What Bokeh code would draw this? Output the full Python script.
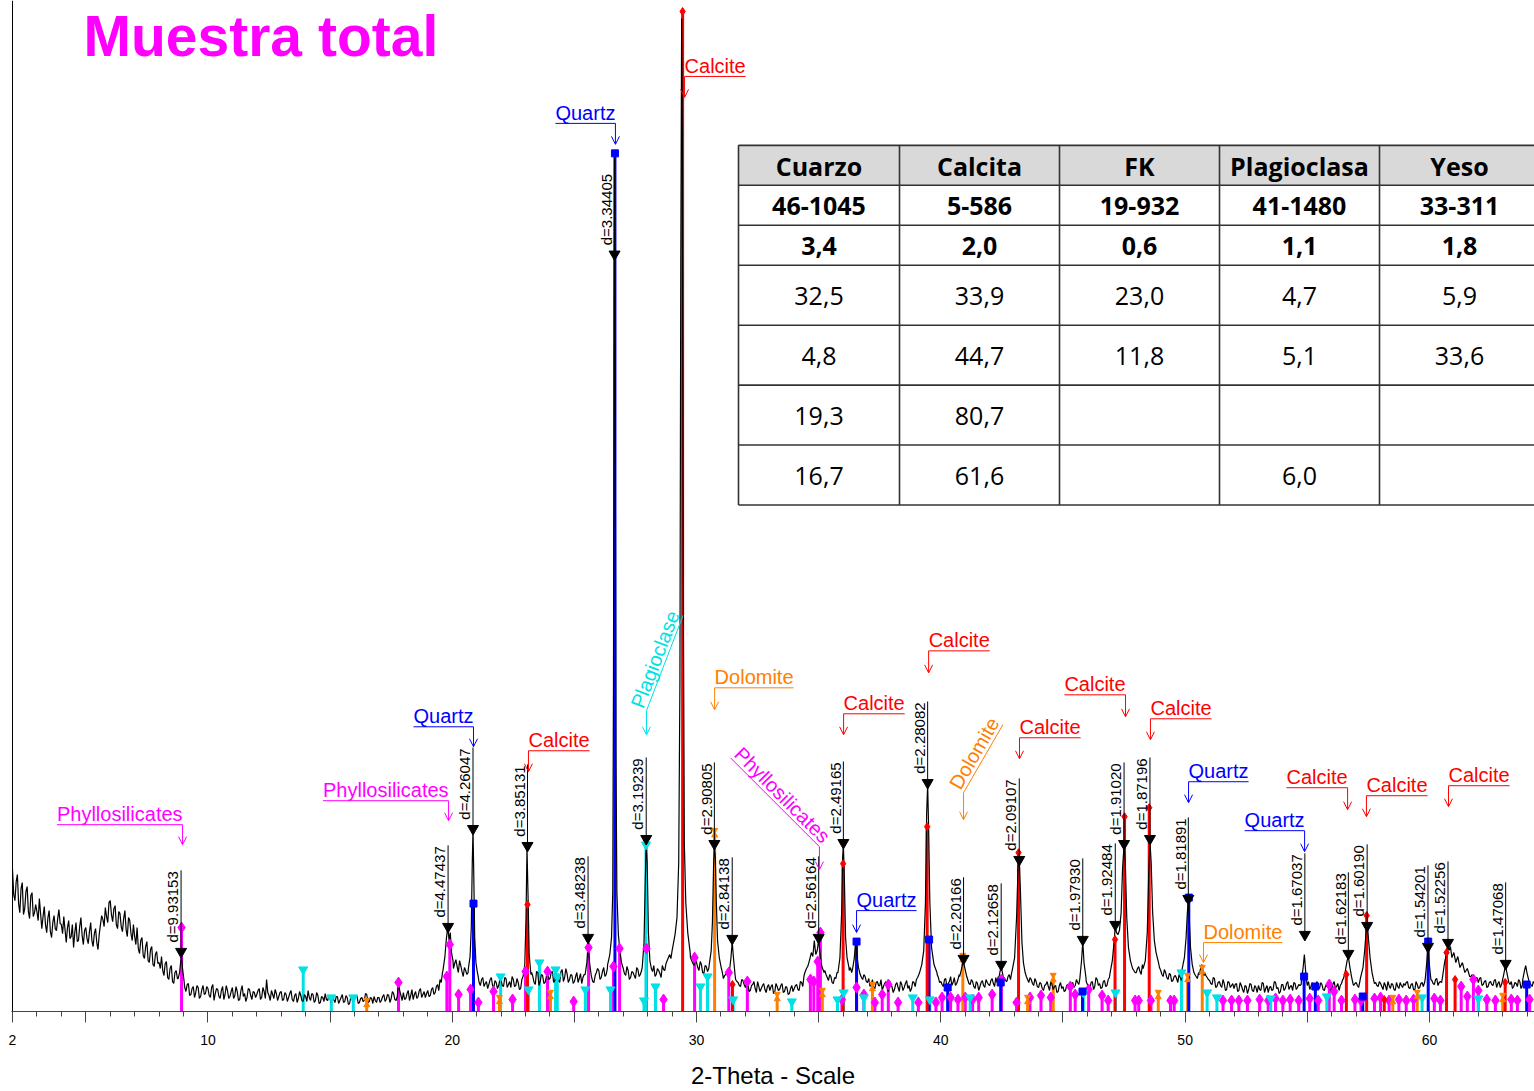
import math
from bokeh.plotting import figure
from bokeh.models import Range1d, FixedTicker, Span, Arrow, OpenHead, ColumnDataSource
from bokeh.core.properties import value
from bokeh.embed import file_html
from bokeh.resources import INLINE

# ============================ DATA ============================
title_text = "Muestra total"
x_label = "2-Theta - Scale"

# measured pattern: background counts every 0.1 deg from 2.00 deg (one row per degree)
bg_start = 2.0
bg_step = 0.1
bg_counts = [
    143, 112, 138, 100, 130, 104, 126, 94, 120, 100,
    101, 114, 84, 106, 80, 102, 75, 97, 82, 103,
    88, 96, 70, 92, 76, 65, 90, 72, 95, 68,
    85, 69, 90, 66, 84, 63, 88, 93, 105, 90,
    112, 91, 107, 84, 99, 81, 102, 76, 92, 72,
    76, 85, 59, 75, 54, 71, 50, 66, 46, 61,
    50, 56, 37, 51, 33, 47, 29, 42, 40, 45,
    32, 21, 29, 18, 26, 20, 25, 16, 27, 19,
    24, 15, 28, 19, 23, 14, 26, 18, 22, 16,
    25, 17, 21, 13, 27, 19, 15, 23, 13, 20,
    18, 24, 15, 21, 33, 17, 22, 14, 19, 16,
    21, 13, 18, 15, 22, 11, 19, 14, 17, 11,
    16, 22, 12, 18, 12, 17, 10, 15, 19, 12,
    14, 17, 10, 16, 12, 18, 11, 15, 9, 14,
    13, 17, 10, 15, 12, 18, 11, 14, 16, 10,
    15, 12, 18, 13, 17, 14, 19, 12, 30, 17,
    20, 14, 22, 17, 13, 21, 16, 24, 18, 15,
    22, 17, 25, 20, 28, 33, 40, 50, 80, 70,
    55, 49, 46, 52, 41, 45, 38, 50, 60, 45,
    36, 30, 33, 26, 31, 28, 35, 25, 30, 27,
    32, 26, 34, 28, 25, 33, 27, 30, 24, 35,
    60, 80, 45, 36, 28, 40, 31, 37, 30, 42,
    34, 41, 32, 38, 30, 43, 35, 39, 33, 37,
    31, 40, 34, 29, 38, 50, 40, 36, 30, 40,
    42, 35, 45, 38, 52, 70, 99, 99, 70, 55,
    44, 37, 42, 35, 40, 34, 43, 38, 50, 99,
    99, 45, 41, 36, 44, 39, 47, 42, 52, 58,
    62, 72, 99, 99, 99, 99, 99, 99, 52, 47,
    50, 42, 48, 39, 46, 44, 99, 99, 99, 99,
    40, 34, 38, 36, 60, 60, 33, 30, 26, 32,
    25, 30, 22, 28, 24, 31, 21, 27, 23, 26,
    22, 28, 20, 26, 23, 29, 21, 25, 19, 27,
    24, 28, 22, 30, 37, 44, 50, 60, 70, 60,
    60, 55, 45, 38, 32, 36, 29, 34, 40, 60,
    99, 99, 70, 45, 50, 60, 50, 38, 33, 36,
    30, 26, 33, 24, 31, 27, 22, 29, 25, 32,
    26, 23, 30, 21, 28, 25, 32, 27, 24, 30,
    33, 38, 50, 99, 99, 99, 99, 99, 50, 35,
    31, 26, 34, 29, 36, 30, 27, 33, 40, 50,
    40, 33, 28, 31, 24, 29, 26, 32, 25, 30,
    27, 34, 26, 30, 40, 45, 35, 31, 38, 40,
    99, 99, 99, 99, 99, 36, 30, 33, 27, 31,
    25, 29, 22, 28, 26, 31, 23, 27, 21, 30,
    26, 22, 28, 24, 30, 27, 30, 60, 50, 35,
    28, 24, 31, 26, 33, 29, 25, 32, 27, 35,
    38, 60, 80, 80, 99, 99, 99, 80, 50, 42,
    40, 46, 38, 50, 60, 99, 99, 99, 60, 50,
    42, 36, 40, 33, 38, 32, 37, 30, 35, 45,
    60, 99, 60, 50, 38, 34, 40, 45, 40, 35,
    32, 28, 34, 26, 31, 25, 29, 23, 30, 27,
    24, 29, 22, 27, 20, 26, 23, 28, 21, 25,
    27, 22, 29, 24, 20, 26, 23, 30, 25, 21,
    28, 24, 31, 26, 22, 29, 25, 27, 50, 40,
    27, 23, 30, 25, 31, 24, 28, 22, 26, 29,
    24, 31, 26, 22, 29, 40, 50, 40, 30, 27,
    30, 25, 40, 60, 80, 70, 45, 32, 30, 26,
    29, 23, 27, 31, 24, 28, 22, 26, 30, 25,
    27, 31, 24, 29, 22, 28, 25, 30, 30, 60,
    40, 32, 28, 34, 30, 30, 60, 70, 60, 55,
    55, 50, 48, 45, 42, 38, 35, 36, 31, 34,
    30, 35, 28, 32, 26, 31, 27, 33, 29, 25,
    30, 46, 32, 28, 24, 30, 26, 31, 27, 40,
    40, 30, 26, 29, 25, 28, 24, 27, 22, 26,
]

# measured pattern: background counts between the above, every 0.1 deg from 2.05 deg
bg_mid_start = 2.05
bg_counts_mid = [
    118, 131, 109, 124, 98, 121, 101, 117, 96, 108,
    92, 99, 96, 88, 95, 81, 90, 84, 94, 89,
    79, 83, 85, 74, 88, 80, 71, 86, 77, 82,
    74, 81, 72, 79, 70, 78, 97, 86, 96, 110,
    98, 104, 88, 101, 86, 94, 83, 95, 79, 88,
    68, 64, 72, 57, 66, 52, 63, 48, 58, 49,
    44, 42, 49, 35, 44, 31, 40, 34, 40, 40,
    25, 28, 17, 24, 15, 27, 14, 23, 18, 26,
    17, 25, 12, 24, 16, 22, 13, 27, 14, 21,
    14, 26, 12, 22, 16, 11, 24, 17, 21, 15,
    22, 13, 25, 14, 20, 12, 18, 23, 12, 20,
    12, 20, 11, 19, 13, 17, 10, 21, 12, 18,
    11, 15, 19, 10, 20, 9, 16, 11, 13, 17,
    10, 13, 16, 9, 15, 10, 17, 8, 16, 11,
    16, 9, 14, 11, 19, 10, 15, 9, 12, 15,
    10, 16, 11, 18, 10, 21, 13, 16, 22, 12,
    13, 19, 12, 23, 18, 14, 22, 15, 21, 19,
    16, 23, 18, 26, 22, 30, 40, 60, 80, 60,
    44, 53, 40, 47, 36, 42, 40, 40, 40, 40,
    38, 27, 35, 29, 24, 33, 27, 32, 24, 33,
    27, 35, 25, 31, 36, 26, 34, 23, 33, 40,
    40, 40, 40, 30, 41, 27, 38, 29, 36, 33,
    40, 30, 39, 33, 41, 31, 44, 30, 38, 29,
    36, 30, 39, 35, 40, 40, 40, 31, 37, 44,
    33, 41, 36, 44, 50, 50, 50, 50, 50, 48,
    39, 46, 33, 41, 37, 45, 36, 42, 50, 50,
    50, 50, 47, 38, 42, 35, 43, 49, 55, 54,
    67, 60, 60, 60, 60, 60, 60, 55, 49, 53,
    45, 51, 40, 47, 41, 50, 50, 50, 50, 50,
    41, 37, 42, 38, 50, 50, 31, 27, 33, 28,
    29, 21, 27, 31, 20, 26, 24, 29, 20, 28,
    26, 19, 29, 22, 27, 20, 26, 18, 24, 21,
    27, 23, 31, 26, 41, 50, 50, 50, 50, 50,
    50, 50, 42, 35, 38, 30, 35, 40, 40, 40,
    50, 50, 42, 40, 50, 50, 50, 35, 38, 31,
    34, 28, 25, 30, 27, 33, 26, 31, 21, 27,
    20, 28, 25, 31, 22, 29, 24, 21, 31, 26,
    35, 45, 50, 50, 50, 50, 50, 50, 38, 30,
    28, 33, 25, 31, 27, 35, 29, 38, 50, 50,
    38, 29, 33, 26, 31, 22, 30, 27, 33, 28,
    32, 29, 35, 36, 45, 45, 32, 36, 33, 43,
    50, 50, 50, 50, 42, 33, 35, 29, 34, 26,
    30, 24, 27, 31, 22, 28, 26, 20, 27, 24,
    21, 27, 23, 29, 25, 33, 28, 50, 50, 31,
    25, 30, 23, 35, 27, 24, 31, 26, 33, 38,
    50, 50, 50, 50, 50, 50, 50, 50, 45, 40,
    44, 41, 48, 50, 50, 50, 50, 50, 50, 45,
    38, 43, 35, 39, 31, 36, 34, 38, 32, 44,
    50, 50, 50, 50, 36, 40, 50, 50, 37, 33,
    29, 35, 25, 30, 27, 33, 22, 31, 25, 29,
    28, 21, 30, 23, 27, 19, 29, 22, 27, 20,
    23, 30, 20, 27, 25, 22, 31, 24, 19, 28,
    22, 29, 23, 27, 30, 23, 28, 28, 50, 26,
    31, 26, 24, 28, 26, 30, 23, 27, 30, 22,
    28, 24, 29, 27, 33, 50, 50, 50, 32, 29,
    27, 31, 50, 50, 50, 50, 50, 29, 27, 31,
    26, 30, 22, 27, 29, 23, 30, 24, 27, 29,
    30, 25, 28, 23, 31, 24, 29, 26, 33, 50,
    50, 29, 33, 27, 31, 36, 50, 50, 50, 50,
    50, 50, 50, 50, 50, 50, 50, 38, 33, 35,
    34, 27, 31, 25, 30, 28, 32, 25, 31, 28,
    26, 50, 50, 31, 26, 29, 33, 24, 31, 50,
    50, 28, 31, 24, 29, 26, 30, 23, 28, 25,
]

# measured peak profiles (2-theta, counts); they replace the background inside their span
peak_profiles = [
    [(8.78, 34), (8.84, 40), (8.88, 50), (8.92, 56), (8.96, 44), (9.02, 32)],
    [(19.62, 42), (19.70, 56), (19.76, 74), (19.82, 86), (19.87, 72), (19.92, 80), (19.97, 60), (20.03, 52)],
    [(20.66, 44), (20.73, 56), (20.78, 85), (20.82, 150), (20.85, 183), (20.88, 140), (20.92, 75), (20.97, 50), (21.03, 40)],
    [(22.90, 36), (22.97, 48), (23.02, 95), (23.06, 165), (23.10, 120), (23.15, 58), (23.22, 38)],
    [(25.44, 38), (25.51, 50), (25.56, 68), (25.61, 52), (25.69, 37)],
    [(26.36, 48), (26.45, 58), (26.52, 75), (26.57, 120), (26.60, 330), (26.625, 700), (26.645, 855),
     (26.67, 620), (26.70, 260), (26.74, 120), (26.80, 78), (26.87, 60), (26.93, 50)],
    [(27.78, 46), (27.85, 70), (27.90, 130), (27.94, 172), (27.98, 150), (28.03, 80), (28.09, 52), (28.15, 44)],
    [(29.03, 66), (29.12, 78), (29.20, 95), (29.27, 150), (29.32, 330), (29.355, 750), (29.39, 995),
     (29.42, 880), (29.45, 450), (29.50, 170), (29.56, 110), (29.64, 80), (29.74, 60)],
    [(30.52, 48), (30.60, 62), (30.65, 90), (30.70, 150), (30.73, 166), (30.77, 155), (30.81, 110),
     (30.86, 72), (30.93, 55), (31.01, 45)],
    [(31.34, 40), (31.41, 55), (31.46, 71), (31.51, 55), (31.58, 37)],
    [(34.55, 46), (34.62, 52), (34.70, 60), (34.76, 56), (34.82, 72), (34.88, 58), (34.94, 62),
     (35.00, 73), (35.06, 58), (35.13, 46), (35.22, 40)],
    [(35.79, 40), (35.87, 55), (35.94, 100), (35.98, 155), (36.01, 168), (36.05, 135), (36.10, 75),
     (36.16, 55), (36.24, 45)],
    [(36.39, 44), (36.46, 55), (36.51, 71), (36.56, 58), (36.63, 45), (36.68, 40)],
    [(39.13, 40), (39.22, 48), (39.30, 62), (39.37, 110), (39.42, 200), (39.46, 228), (39.50, 185),
     (39.55, 110), (39.62, 65), (39.72, 48), (39.84, 40)],
    [(40.77, 36), (40.85, 44), (40.92, 52), (40.97, 46), (41.06, 36)],
    [(42.37, 34), (42.43, 42), (42.47, 46), (42.52, 40), (42.58, 33)],
    [(42.92, 42), (43.02, 55), (43.10, 95), (43.16, 145), (43.21, 155), (43.26, 120), (43.32, 70),
     (43.38, 50), (43.45, 40)],
    [(45.69, 34), (45.76, 52), (45.81, 71), (45.86, 50), (45.94, 35)],
    [(46.93, 40), (47.02, 52), (47.09, 70), (47.14, 86), (47.19, 80), (47.25, 78), (47.31, 82),
     (47.38, 100), (47.44, 145), (47.50, 168), (47.55, 150), (47.61, 95), (47.68, 65), (47.76, 52), (47.85, 44)],
    [(48.28, 44), (48.37, 52), (48.45, 80), (48.51, 140), (48.56, 171), (48.61, 150), (48.67, 100),
     (48.74, 72), (48.81, 60), (48.91, 50)],
    [(49.88, 44), (49.97, 55), (50.04, 75), (50.09, 100), (50.13, 111), (50.17, 95), (50.22, 65),
     (50.29, 48), (50.36, 40)],
    [(50.58, 38), (50.63, 44), (50.68, 48), (50.73, 42), (50.78, 37)],
    [(54.76, 32), (54.83, 45), (54.88, 58), (54.93, 42), (54.98, 30)],
    [(56.48, 34), (56.56, 42), (56.63, 52), (56.68, 56), (56.74, 46), (56.81, 36), (56.88, 28)],
    [(57.18, 35), (57.28, 45), (57.35, 62), (57.41, 82), (57.46, 87), (57.51, 72), (57.57, 55),
     (57.65, 40), (57.72, 32)],
    [(59.83, 34), (59.89, 50), (59.94, 65), (59.98, 52), (60.06, 33)],
    [(60.55, 38), (60.62, 50), (60.69, 58), (60.75, 68), (60.80, 62), (60.86, 66), (60.92, 55),
     (61.00, 60), (61.08, 50), (61.16, 56), (61.25, 45), (61.35, 50), (61.45, 40), (61.55, 44), (61.65, 36)],
    [(62.97, 30), (63.04, 38), (63.11, 47), (63.17, 40), (63.25, 30)],
    [(63.82, 33), (63.89, 42), (63.94, 47), (63.99, 40), (64.08, 31)],
]

# reference stick patterns (2-theta, height)
calcite_sticks = [(23.08, 108), (29.43, 1002), (31.47, 28), (36.00, 149), (39.44, 186), (43.18, 160),
                  (47.13, 73), (47.52, 196), (48.53, 205), (56.60, 38), (57.43, 97), (58.15, 13),
                  (60.70, 60), (61.05, 33), (63.10, 30)]
quartz_sticks = [(20.87, 109), (26.66, 860), (36.55, 71), (39.52, 73), (40.28, 25), (42.45, 30),
                 (45.80, 21), (50.15, 115), (54.87, 36), (55.33, 26), (57.27, 16), (59.95, 71), (63.98, 28)]
plagioclase_sticks = [(13.90, 43), (15.05, 15), (15.95, 15), (21.98, 36), (23.12, 23), (23.57, 50),
                      (24.23, 43), (24.30, 36), (25.45, 23), (26.48, 23), (27.85, 12), (27.93, 168),
                      (28.32, 26), (30.16, 26), (30.45, 36), (31.50, 13), (33.90, 11), (35.77, 13),
                      (36.02, 20), (36.85, 15), (38.85, 15), (39.55, 13), (41.20, 15), (45.83, 20),
                      (47.15, 20), (49.85, 40), (50.90, 20), (51.30, 15), (53.50, 14), (55.80, 16),
                      (59.70, 15), (62.00, 14)]
dolomite_sticks = [(16.50, 10), (21.93, 13), (24.02, 18), (30.74, 180), (33.30, 16), (35.15, 20),
                   (37.20, 26), (40.90, 55), (43.55, 13), (44.60, 35), (48.90, 18), (50.10, 35),
                   (50.70, 43), (58.50, 13), (59.50, 18), (63.00, 15)]
phyllosilicate_sticks = [(8.92, 85), (17.80, 30), (19.78, 36), (19.90, 68), (20.26, 18), (20.75, 23),
                         (21.07, 10), (21.69, 21), (22.47, 13), (23.00, 41), (23.90, 41), (24.97, 11),
                         (25.58, 65), (26.60, 46), (26.85, 64), (27.95, 64), (28.65, 13), (29.92, 55),
                         (31.32, 40), (32.08, 31), (34.66, 33), (34.80, 31), (34.96, 51), (35.07, 80),
                         (35.95, 13), (36.55, 25), (36.85, 18), (37.30, 10), (37.60, 18), (37.85, 28),
                         (38.25, 10), (39.08, 10), (39.80, 10), (40.05, 15), (40.40, 15), (40.70, 13),
                         (41.00, 15), (41.30, 13), (41.55, 15), (42.10, 18), (42.48, 33), (43.10, 10),
                         (43.65, 15), (44.10, 17), (44.50, 15), (45.30, 26), (45.50, 18), (46.05, 23),
                         (46.60, 17), (46.85, 12), (47.95, 12), (48.10, 12), (48.60, 12), (49.40, 12),
                         (49.55, 12), (51.55, 12), (51.90, 12), (52.20, 12), (52.55, 12), (53.05, 13),
                         (53.40, 12), (53.70, 14), (54.00, 12), (54.30, 13), (54.65, 12), (55.10, 14),
                         (55.45, 12), (55.90, 28), (56.10, 21), (56.40, 12), (56.95, 13), (57.20, 12),
                         (57.75, 14), (58.00, 15), (58.35, 12), (58.75, 13), (59.05, 12), (59.35, 13),
                         (60.20, 14), (60.45, 12), (61.30, 26), (61.55, 16), (61.80, 33), (62.00, 22),
                         (62.35, 13), (62.70, 12), (63.35, 13), (63.60, 12), (64.10, 13)]

# d-spacing peak labels: (2-theta, label, marker height)
d_peaks = [
    (8.90, "d=9.93153", 58), (19.83, "d=4.47437", 83), (20.85, "d=4.26047", 181),
    (23.08, "d=3.85131", 164), (25.56, "d=3.48238", 72), (26.645, "d=3.34405", 756),
    (27.94, "d=3.19239", 171), (30.73, "d=2.90805", 166), (31.46, "d=2.84138", 71),
    (35.00, "d=2.56164", 72), (36.01, "d=2.49165", 167), (39.46, "d=2.28082", 227),
    (40.93, "d=2.20166", 51), (42.47, "d=2.12658", 45), (43.21, "d=2.09107", 150),
    (45.81, "d=1.97930", 70), (47.14, "d=1.92484", 85), (47.50, "d=1.91020", 166),
    (48.56, "d=1.87196", 171), (50.13, "d=1.81891", 111), (54.90, "d=1.67037", 75),
    (56.68, "d=1.62183", 56), (57.45, "d=1.60190", 84), (59.94, "d=1.54201", 63),
    (60.76, "d=1.52256", 67), (63.12, "d=1.47068", 46),
]

# phase identification labels: (text, phase, 2-theta pointed at)
phase_label_text = [
    ("Phyllosilicates", "phyl", 8.96), ("Phyllosilicates", "phyl", 19.85), ("Quartz", "qtz", 20.87),
    ("Calcite", "cal", 23.12), ("Quartz", "qtz", 26.68), ("Calcite", "cal", 29.51),
    ("Plagioclase", "plag", 27.95), ("Dolomite", "dol", 30.74), ("Phyllosilicates", "phyl", 35.03),
    ("Calcite", "cal", 36.02), ("Quartz", "qtz", 36.55), ("Calcite", "cal", 39.50),
    ("Dolomite", "dol", 40.93), ("Calcite", "cal", 43.22), ("Calcite", "cal", 47.56),
    ("Calcite", "cal", 48.58), ("Quartz", "qtz", 50.14), ("Dolomite", "dol", 50.75),
    ("Quartz", "qtz", 54.89), ("Calcite", "cal", 56.65), ("Calcite", "cal", 57.42),
    ("Calcite", "cal", 60.78),
]

# table
table_header = ["Cuarzo", "Calcita", "FK", "Plagioclasa", "Yeso"]
table_rows = [
    ["46-1045", "5-586", "19-932", "41-1480", "33-311"],
    ["3,4", "2,0", "0,6", "1,1", "1,8"],
    ["32,5", "33,9", "23,0", "4,7", "5,9"],
    ["4,8", "44,7", "11,8", "5,1", "33,6"],
    ["19,3", "80,7", "", "", ""],
    ["16,7", "61,6", "", "6,0", ""],
]

major_ticks = [2, 5, 10, 15, 20, 25, 30, 35, 40, 45, 50, 55, 60]
tick_labels = {2: "2", 10: "10", 20: "20", 30: "30", 40: "40", 50: "50", 60: "60"}
minor_ticks = list(range(2, 65))

# ============================ LAYOUT / STYLE ============================
PXD = 24.43   # pixels per degree
MID = 0.42    # baseline offset below a 'middle' text anchor, in em


def X(px):
    return 2.0 + (px - 12.0) / PXD


def Y(py):
    return 1013.0 - py


def DX(d):
    return d / PXD


COL = {"cal": "#FF0000", "qtz": "#0000FF", "plag": "#00E1E6", "dol": "#FF8000", "phyl": "#FF00FF"}
ARIAL = {'C': 722, 'a': 556, 'l': 222, 'c': 500, 'i': 222, 't': 278, 'e': 556, 'Q': 778, 'u': 556,
         'r': 333, 'z': 500, 'D': 722, 'o': 556, 'm': 833, 'P': 667, 'h': 556, 'y': 500, 's': 500,
         'g': 556, 'd': 556, '=': 584, '.': 278}


def text_w(s, size):
    return sum(ARIAL.get(ch, 556) for ch in s) * size / 1000.0


# placement of phase labels: (underline py, arrow tip py, side or angle)
phase_label_place = [
    (825, 845, "left"), (801, 821, "left"), (727, 747, "left"), (751, 772, "right"),
    (123, 144, "left"), (76, 97, "right"), (711, 735, 69), (688, 710, "right"),
    (847, 870, -45), (714, 735, "right"), (911, 933, "right"), (651, 673, "right"),
    (793, 820, 60), (738, 759, "right"), (695, 717, "left"), (719, 740, "right"),
    (782, 803, "right"), (943, 963, "right"), (831, 852, "left"), (788, 810, "left"),
    (796, 817, "right"), (786, 807, "right"),
]

p = figure(width=1534, height=1091,
           x_range=Range1d(X(11), X(1534)), y_range=Range1d(Y(1012), Y(0)),
           output_backend="svg", toolbar_location=None, y_axis_location=None,
           min_border_left=11, min_border_right=0, min_border_top=0, min_border_bottom=79)
p.outline_line_color = None
p.grid.visible = False
p.background_fill_color = "white"
p.border_fill_color = "white"

xa = p.xaxis[0]
xa.ticker = FixedTicker(ticks=major_ticks, minor_ticks=minor_ticks)
xa.major_label_overrides = {t: tick_labels.get(t, "") for t in major_ticks}
xa.major_tick_out = 11
xa.major_tick_in = 0
xa.minor_tick_out = 5
xa.minor_tick_in = 0
for attr in ("axis_line_color", "major_tick_line_color", "minor_tick_line_color"):
    setattr(xa, attr, "#444444")
xa.major_label_text_font = "Liberation Sans"
xa.major_label_text_font_size = "14px"
xa.major_label_text_color = "black"
xa.major_label_standoff = 12
xa.axis_label = x_label
xa.axis_label_text_font = "Liberation Sans"
xa.axis_label_text_font_size = "24px"
xa.axis_label_text_font_style = "normal"
xa.axis_label_text_color = "black"
xa.axis_label_standoff = 14

p.add_layout(Span(location=2.0, dimension="height", line_color="black", line_width=1))

# ---- stick patterns ----
stick_sets = [("phyl", phyllosilicate_sticks), ("plag", plagioclase_sticks), ("dol", dolomite_sticks),
              ("qtz", quartz_sticks), ("cal", calcite_sticks)]
for key, st in stick_sets:
    tt = [a for a, _ in st]
    hh = [b for _, b in st]
    p.segment(x0=tt, y0=[0] * len(tt), x1=tt, y1=hh, line_color=COL[key], line_width=3)

# ---- measured pattern ----
windows = [(min(t for t, _ in pr), max(t for t, _ in pr)) for pr in peak_profiles]
pts = []
for start, counts in ((bg_start, bg_counts), (bg_mid_start, bg_counts_mid)):
    for i, c in enumerate(counts):
        t = round(start + i * bg_step, 3)
        if any(a <= t <= b for a, b in windows):
            continue
        pts.append((t, c))
for pr in peak_profiles:
    pts.extend(pr)
pts.sort()
p.line([a for a, _ in pts], [b for _, b in pts], line_color="black", line_width=1.2)

# ---- stick markers ----
for key, st in stick_sets:
    tt = [a for a, _ in st]
    hh = [b for _, b in st]
    c = COL[key]
    if key == "phyl":
        p.scatter(tt, hh, marker="diamond", size=11, color=c)
    elif key == "plag":
        p.scatter(tt, hh, marker="inverted_triangle", size=9, color=c)
    elif key == "qtz":
        p.scatter(tt, hh, marker="square", size=7, color=c)
    elif key == "cal":
        p.scatter(tt, hh, marker="diamond", size=8, color=c)
    else:
        p.scatter(tt, [h + 2.5 for h in hh], marker="inverted_triangle", size=6, color=c)
        p.scatter(tt, [h - 2.5 for h in hh], marker="triangle", size=6, color=c)

# ---- d-spacing labels ----
D_SIZE = 15
dx_, dy0, dy1, ty, tx, tt_ = [], [], [], [], [], []
for t, lab, h in d_peaks:
    L = text_w(lab, D_SIZE)
    dx_.append(t)
    dy0.append(h)
    dy1.append(h + 12 + L + 1)
    tx.append(t - DX(2 + MID * D_SIZE))
    ty.append(h + 12)
    tt_.append(lab)
p.segment(x0=dx_, y0=dy0, x1=dx_, y1=dy1, line_color="black", line_width=1)
p.scatter(dx_, [h + 3 for h in dy0], marker="inverted_triangle", size=11, color="black")
p.text(x=tx, y=ty, text=tt_, angle=math.pi / 2, text_align="left", text_baseline="middle",
       text_font=value("Liberation Sans"), text_font_size="15px", text_color="black")

# ---- phase labels ----
P_SIZE = 20
groups = {}
for (lab, ph, bend_t), (uy, tip, mode) in zip(phase_label_text, phase_label_place):
    g = groups.setdefault(ph, dict(ux0=[], uy0=[], ux1=[], uy1=[], ax=[], ay0=[], ay1=[],
                                   tx=[], ty=[], txt=[], ang=[]))
    W = text_w(lab, P_SIZE)
    by = Y(uy)
    if mode == "left":
        sx, sy, ex, ey, a = bend_t - DX(W), by, bend_t, by, 0.0
    elif mode == "right":
        sx, sy, ex, ey, a = bend_t, by, bend_t + DX(W), by, 0.0
    else:
        a = math.radians(mode)
        ddx, ddy = DX(W * math.cos(a)), W * math.sin(a)
        if mode > 0:
            sx, sy, ex, ey = bend_t, by, bend_t + ddx, by + ddy
        else:
            sx, sy, ex, ey = bend_t - ddx, by - ddy, bend_t, by
    off = 2 + MID * P_SIZE
    g["ux0"].append(sx); g["uy0"].append(sy); g["ux1"].append(ex); g["uy1"].append(ey)
    g["ax"].append(bend_t); g["ay0"].append(by); g["ay1"].append(Y(tip))
    g["tx"].append(sx + DX(-off * math.sin(a))); g["ty"].append(sy + off * math.cos(a))
    g["txt"].append(lab); g["ang"].append(a)

for ph, g in groups.items():
    c = COL[ph]
    p.segment(x0=g["ux0"], y0=g["uy0"], x1=g["ux1"], y1=g["uy1"], line_color=c, line_width=1)
    src = ColumnDataSource(dict(x0=g["ax"], y0=g["ay0"], x1=g["ax"], y1=g["ay1"]))
    p.add_layout(Arrow(end=OpenHead(size=8, line_color=c, line_width=1), source=src,
                       x_start="x0", y_start="y0", x_end="x1", y_end="y1",
                       line_color=c, line_width=1))
    p.text(x=g["tx"], y=g["ty"], text=g["txt"], angle=g["ang"], text_align="left",
           text_baseline="middle", text_font=value("Liberation Sans"), text_font_size="20px",
           text_color=c)

# ---- table ----
col_px = [738, 899, 1059, 1219, 1379, 1539]
row_px = [145, 185, 225, 265, 325, 385, 445, 505]
p.quad(left=X(col_px[0]), right=X(col_px[-1]), top=Y(row_px[0]), bottom=Y(row_px[1]),
       fill_color="#D9D9D9", line_color=None)
p.segment(x0=[X(col_px[0])] * len(row_px), y0=[Y(r) for r in row_px],
          x1=[X(col_px[-1])] * len(row_px), y1=[Y(r) for r in row_px],
          line_color="#333333", line_width=1.6)
p.segment(x0=[X(c) for c in col_px], y0=[Y(row_px[0])] * len(col_px),
          x1=[X(c) for c in col_px], y1=[Y(row_px[-1])] * len(col_px),
          line_color="#333333", line_width=1.6)
all_rows = [table_header] + table_rows
for ri, row in enumerate(all_rows):
    cy = (row_px[ri] + row_px[ri + 1]) / 2 + 1
    xs = [X((col_px[ci] + col_px[ci + 1]) / 2) for ci in range(len(row))]
    p.text(x=xs, y=[Y(cy)] * len(row), text=row, text_align="center", text_baseline="middle",
           text_font=value("Open Sans"), text_font_size="25px",
           text_font_style="bold" if ri < 3 else "normal", text_color="black")

# ---- title (its full text box kept inside the page) ----
T_SIZE = 57
p.text(x=[X(83)], y=[Y(59) + MID * T_SIZE], text=[title_text], text_align="left", text_baseline="middle",
       text_font=value("Liberation Sans"), text_font_style="bold", text_font_size="%dpx" % T_SIZE,
       text_color="#FF00FF")

open("out.html", "w").write(file_html(p, INLINE))
